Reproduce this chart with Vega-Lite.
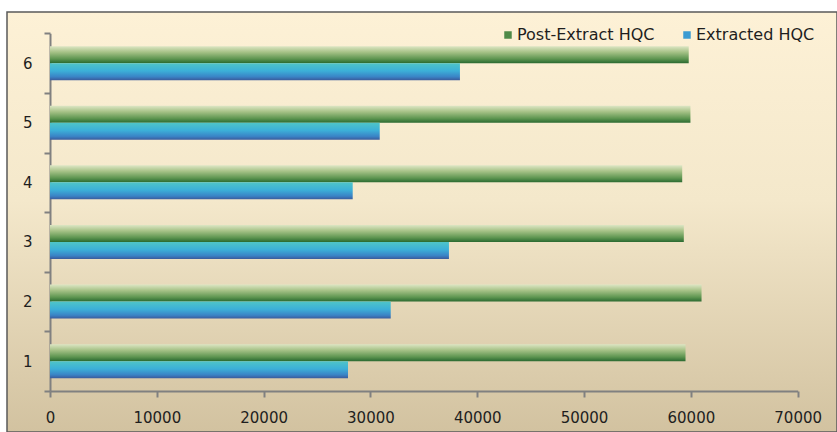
{
  "$schema": "https://vega.github.io/schema/vega-lite/v6.json",
  "width": 830,
  "height": 420,
  "autosize": {"type": "none"},
  "padding": {"left": 7, "top": 12, "right": 0, "bottom": 0},
  "background": "white",
  "config": {
    "font": "DejaVu Sans",
    "view": {
      "fill": {"gradient": "linear", "x1": 0, "y1": 0, "x2": 0, "y2": 1, "stops": [
        {"offset": 0, "color": "#fdf1d6"},
        {"offset": 0.45, "color": "#f4e8cb"},
        {"offset": 1, "color": "#d2c2a0"}
      ]},
      "stroke": "#5a5a5a",
      "strokeWidth": 1.5
    }
  },
  "data": {"values": [
    {"cat": 1, "series": "Post-Extract HQC", "value": 59500},
    {"cat": 1, "series": "Extracted HQC", "value": 27900},
    {"cat": 2, "series": "Post-Extract HQC", "value": 61000},
    {"cat": 2, "series": "Extracted HQC", "value": 31900},
    {"cat": 3, "series": "Post-Extract HQC", "value": 59340},
    {"cat": 3, "series": "Extracted HQC", "value": 37350},
    {"cat": 4, "series": "Post-Extract HQC", "value": 59190},
    {"cat": 4, "series": "Extracted HQC", "value": 28340},
    {"cat": 5, "series": "Post-Extract HQC", "value": 59960},
    {"cat": 5, "series": "Extracted HQC", "value": 30870},
    {"cat": 6, "series": "Post-Extract HQC", "value": 59800},
    {"cat": 6, "series": "Extracted HQC", "value": 38380}
  ]},
  "encoding": {
    "y": {
      "field": "cat", "type": "ordinal", "sort": "descending",
      "scale": {"paddingInner": 0, "paddingOuter": 0.5235, "align": 0.342},
      "axis": {
        "title": null, "offset": -43, "tickBand": "extent", "tickSize": 6,
        "tickColor": "#808080", "tickWidth": 2,
        "domainColor": "#808080", "domainWidth": 2, "domainDash": [0, 21.3, 357.7, 200],
        "labelFont": "DejaVu Sans", "labelFontSize": 15, "labelColor": "#1e1e1e",
        "labelPadding": 12, "labelAngle": 0
      }
    },
    "yOffset": {
      "field": "series",
      "scale": {"domain": ["Post-Extract HQC", "Extracted HQC"], "paddingInner": 0, "paddingOuter": 0.753}
    },
    "x": {
      "field": "value", "type": "quantitative",
      "scale": {"domain": [-4026, 73682], "nice": false, "zero": false},
      "axis": {
        "title": null, "offset": -41, "values": [0, 10000, 20000, 30000, 40000, 50000, 60000, 70000],
        "grid": false, "tickSize": 6, "tickColor": "#808080", "tickWidth": 2,
        "domainColor": "#808080", "domainWidth": 2, "domainDash": [0, 43, 747.7, 200],
        "labelFont": "DejaVu Sans", "labelFontSize": 15, "labelColor": "#1e1e1e",
        "labelPadding": 13, "format": "d", "labelFlush": false, "labelOverlap": false
      }
    }
  },
  "layer": [
    {
      "transform": [{"filter": "datum.series === 'Post-Extract HQC'"}],
      "mark": {"type": "bar", "fill": {"gradient": "linear", "x1": 0, "y1": 0, "x2": 0, "y2": 1, "stops": [
        {"offset": 0, "color": "#dde6c4"},
        {"offset": 0.35, "color": "#a6c287"},
        {"offset": 0.75, "color": "#5d9550"},
        {"offset": 1, "color": "#2b6a31"}
      ]}}
    },
    {
      "transform": [{"filter": "datum.series === 'Extracted HQC'"}],
      "mark": {"type": "bar", "fill": {"gradient": "linear", "x1": 0, "y1": 0, "x2": 0, "y2": 1, "stops": [
        {"offset": 0, "color": "#4fc5c8"},
        {"offset": 0.45, "color": "#3cb0d8"},
        {"offset": 0.8, "color": "#3a84c6"},
        {"offset": 1, "color": "#3a5b9c"}
      ]}}
    },
    {
      "mark": {"type": "bar", "opacity": 0},
      "encoding": {
        "color": {
          "field": "series", "type": "nominal",
          "scale": {"domain": ["Post-Extract HQC", "Extracted HQC"], "range": ["#4f8a48", "#3b9bd2"]},
          "legend": {
            "title": null, "orient": "none", "legendX": 493, "legendY": 15, "direction": "horizontal",
            "symbolType": "square", "symbolSize": 56, "symbolStrokeWidth": 0, "symbolOpacity": 1,
            "labelFont": "DejaVu Sans", "labelFontSize": 16, "labelColor": "#1e1e1e",
            "labelOffset": 1, "columnPadding": 24, "padding": 0
          }
        }
      }
    }
  ]
}
